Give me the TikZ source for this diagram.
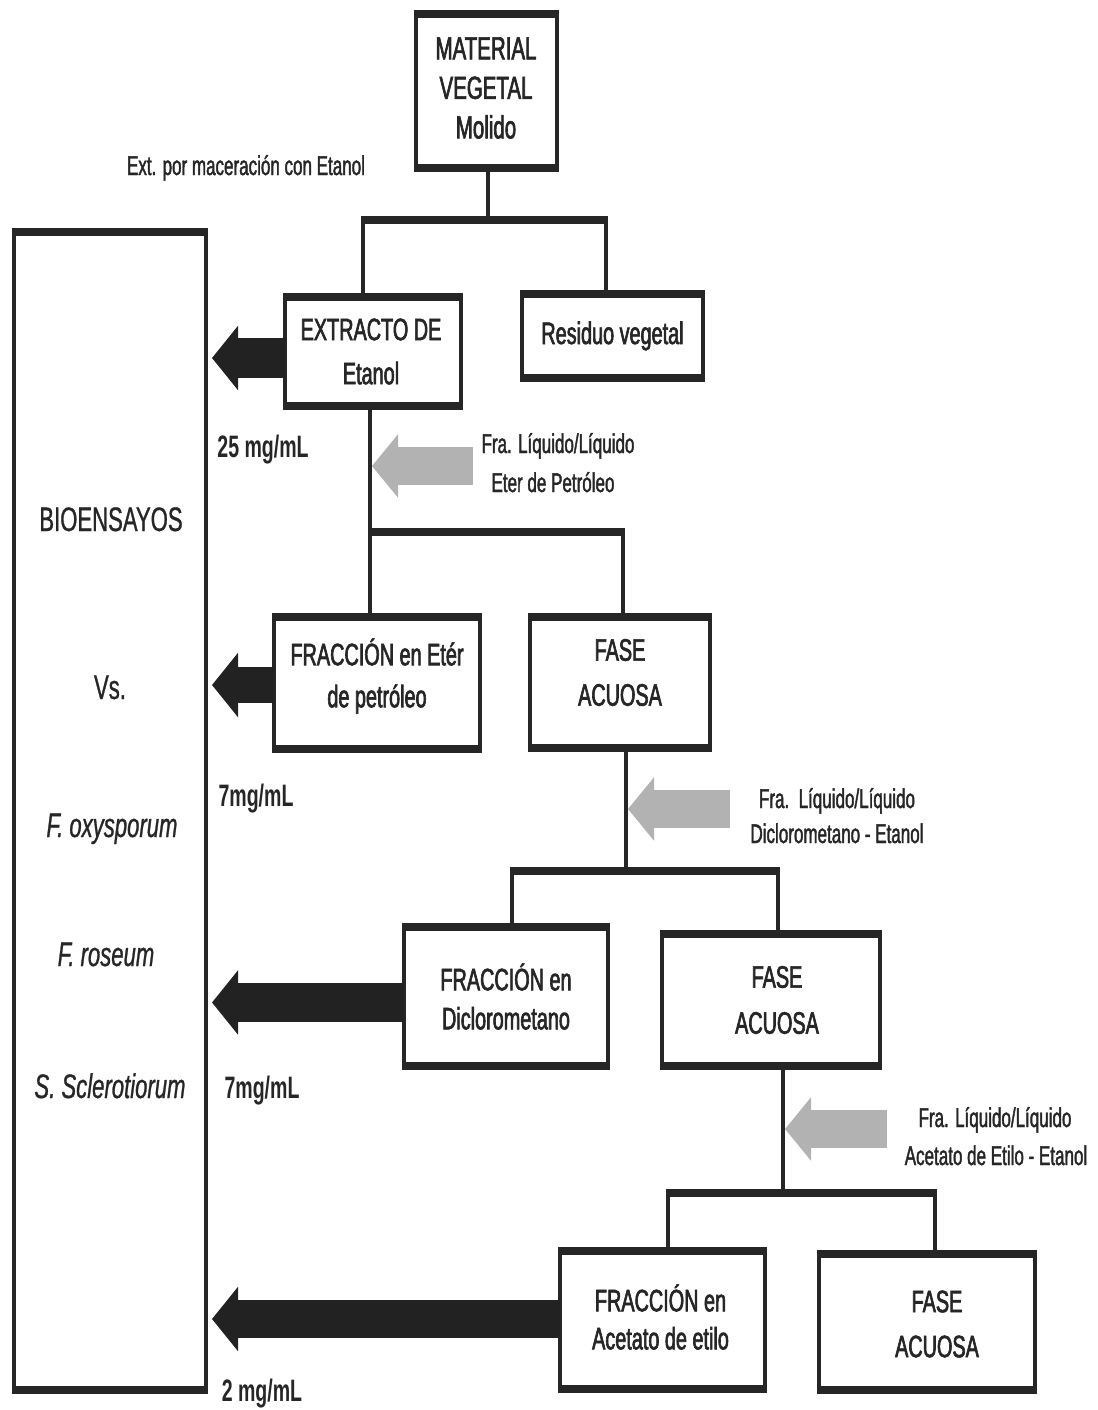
\documentclass[tikz,border=0pt]{standalone}
\usepackage{fontspec}
\setmainfont{Liberation Sans}
\newfontfamily\boxfont[FakeStretch=0.64,FakeBold=2]{Liberation Sans}
\newfontfamily\labfont[FakeStretch=0.63,FakeBold=1.5]{Liberation Sans}
\newfontfamily\mgfont[FakeStretch=0.63]{Liberation Sans}
\newfontfamily\biofont[FakeStretch=0.65,FakeBold=0.8]{Liberation Sans}
\usetikzlibrary{arrows.meta}
\definecolor{ink}{HTML}{262626}
\definecolor{blk}{HTML}{222222}
\definecolor{gry}{HTML}{B2B2B2}
\tikzset{
  box/.style={draw=ink, line width=4pt, outer sep=0pt, inner sep=0pt, align=center,
    text=ink, fill=white, font=\boxfont\fontsize{31}{42}\selectfont},
  boxtext/.style={align=center, text=ink, inner sep=0pt, font=\boxfont\fontsize{31}{42}\selectfont},
  vln/.style={draw=ink, line width=4pt},
  hln/.style={draw=ink, line width=8pt},
  barrow/.style={draw=blk, line width=#1, -{Triangle[length=26pt,width=63pt]}},
  garrow/.style={draw=gry, line width=38pt, -{Triangle[length=26pt,width=62pt]}},
  lab/.style={text=ink, anchor=base, inner sep=0pt, font=\labfont\fontsize{27}{32}\selectfont},
  mg/.style={text=ink, anchor=base, inner sep=0pt, font=\mgfont\bfseries\fontsize{31}{36}\selectfont},
  bio/.style={text=ink, anchor=base, inner sep=0pt, font=\biofont\fontsize{34}{40}\selectfont}
}
\begin{document}
\begin{tikzpicture}[x=1pt,y=-1pt]
\fill[white] (0,0) rectangle (1097,1410);
\useasboundingbox (0,0) rectangle (1097,1410);

% ---- junction points ----
\coordinate (j1) at (488,220);
\coordinate (j1l) at (363,220);
\coordinate (j1r) at (606,220);
\coordinate (j2l) at (370,532);
\coordinate (j2r) at (623,532);
\coordinate (j3) at (626,871);
\coordinate (j3l) at (512,871);
\coordinate (j3r) at (778,871);
\coordinate (j4) at (783,1193);
\coordinate (j4l) at (668,1193);
\coordinate (j4r) at (935,1193);

% ---- boxes ----
\node[box, minimum width=141pt, minimum height=154pt,
  label={[boxtext, font=\boxfont\fontsize{32}{39.5}\selectfont, yshift=3pt]center:MATERIAL\\VEGETAL\\Molido}] (mat) at (486,91) {};
\node[box, minimum width=176pt, minimum height=109pt,
  label={[boxtext, font=\boxfont\fontsize{31}{44}\selectfont, xshift=-2pt]center:EXTRACTO DE\\Etanol}] (ext) at (373,351.5) {};
\node[box, minimum width=181pt, minimum height=84pt] (res) at (612.5,336) {Residuo vegetal};
\node[box, minimum width=192pt, minimum height=1158pt] (bio) at (110,811) {};
\node[box, minimum width=206pt, minimum height=132pt,
  label={[boxtext, yshift=7pt]center:FRACCIÓN en Etér\\de petróleo}] (fpet) at (377,683) {};
\node[box, minimum width=180pt, minimum height=131pt,
  label={[boxtext, font=\boxfont\fontsize{31}{45}\selectfont, yshift=10pt]center:FASE\\ACUOSA}] (fa1) at (620,682.5) {};
\node[box, minimum width=204pt, minimum height=139pt, font=\boxfont\fontsize{31}{39}\selectfont] (fdcm) at (506,996.5) {FRACCIÓN en\\Diclorometano};
\node[box, minimum width=218pt, minimum height=132pt,
  label={[boxtext, font=\boxfont\fontsize{31}{46}\selectfont, xshift=6pt]center:FASE\\ACUOSA}] (fa2) at (771,1000) {};
\node[box, minimum width=205pt, minimum height=138pt,
  label={[boxtext, font=\boxfont\fontsize{31}{38}\selectfont, yshift=3pt, xshift=-2pt]center:FRACCIÓN en\\Acetato de etilo}] (face) at (662.5,1320) {};
\node[box, minimum width=216pt, minimum height=136pt,
  label={[boxtext, font=\boxfont\fontsize{31}{45}\selectfont, xshift=10pt, yshift=-2pt]center:FASE\\ACUOSA}] (fa3) at (927,1322) {};

\foreach \n in {mat,ext,res,bio,fpet,fa1,fdcm,fa2,face,fa3}{
  \draw[hln] ([xshift=-2pt]\n.north west) -- ([xshift=2pt]\n.north east);
  \draw[hln] ([xshift=-2pt]\n.south west) -- ([xshift=2pt]\n.south east);
}

% ---- tree connectors ----
\draw[vln] (j1 |- mat.south) -- (j1);
\draw[hln] ([xshift=-2pt]j1l) -- ([xshift=2pt]j1r);
\draw[vln] (j1l) -- (j1l |- ext.north);
\draw[vln] (j1r) -- (j1r |- res.north);

\draw[vln] (j2l |- ext.south) -- (j2l);
\draw[hln] ([xshift=-2pt]j2l) -- ([xshift=2pt]j2r);
\draw[vln] (j2l) -- (j2l |- fpet.north);
\draw[vln] (j2r) -- (j2r |- fa1.north);

\draw[vln] (j3 |- fa1.south) -- (j3);
\draw[hln] ([xshift=-2pt]j3l) -- ([xshift=2pt]j3r);
\draw[vln] (j3l) -- (j3l |- fdcm.north);
\draw[vln] (j3r) -- (j3r |- fa2.north);

\draw[vln] (j4 |- fa2.south) -- (j4);
\draw[hln] ([xshift=-2pt]j4l) -- ([xshift=2pt]j4r);
\draw[vln] (j4l) -- (j4l |- face.north);
\draw[vln] (j4r) -- (j4r |- fa3.north);

% ---- black arrows to bioassays ----
\coordinate (a1) at (212,358);
\coordinate (a2) at (212,685);
\coordinate (a3) at (212,1002.5);
\coordinate (a4) at (212,1319);
\draw[barrow=40pt] (ext.west |- a1) -- (a1);
\draw[barrow=36pt] (fpet.west |- a2) -- (a2);
\draw[barrow=39pt] (fdcm.west |- a3) -- (a3);
\draw[barrow=38pt] (face.west |- a4) -- (a4);

% ---- grey arrows ----
\coordinate (g1s) at (473,466);
\coordinate (g1t) at (372,466);
\coordinate (g2s) at (730,809);
\coordinate (g2t) at (628,809);
\coordinate (g3s) at (887,1129);
\coordinate (g3t) at (785,1129);
\draw[garrow] (g1s) -- (g1t);
\draw[garrow] (g2s) -- (g2t);
\draw[garrow] (g3s) -- (g3t);

% ---- labels ----
\node[lab] (tmac) at (246,175) {Ext. por maceración con Etanol};
\node[mg] (m1) at (263,457) {25 mg/mL};
\node[lab] (g1a) at (558,453) {Fra. Líquido/Líquido};
\node[lab] (g1b) at (553,492) {Eter de Petróleo};
\node[mg] (m2) at (256,806) {7mg/mL};
\node[lab] (g2a) at (837,808) {Fra.\ \ Líquido/Líquido};
\node[lab] (g2b) at (837,843) {Diclorometano - Etanol};
\node[mg] (m3) at (262,1098) {7mg/mL};
\node[lab] (g3a) at (995,1127) {Fra. Líquido/Líquido};
\node[lab] (g3b) at (996,1165) {Acetato de Etilo - Etanol};
\node[mg] (m4) at (262,1401) {2 mg/mL};

% ---- bioassay column ----
\node[bio] (b1) at (111,531) {BIOENSAYOS};
\node[bio] (b2) at (110,699) {Vs.};
\node[bio] (b3) at (112,837) {\itshape F. oxysporum};
\node[bio] (b4) at (106,966) {\itshape F. roseum};
\node[bio] (b5) at (110,1098) {\itshape S. Sclerotiorum};
\end{tikzpicture}
\end{document}
